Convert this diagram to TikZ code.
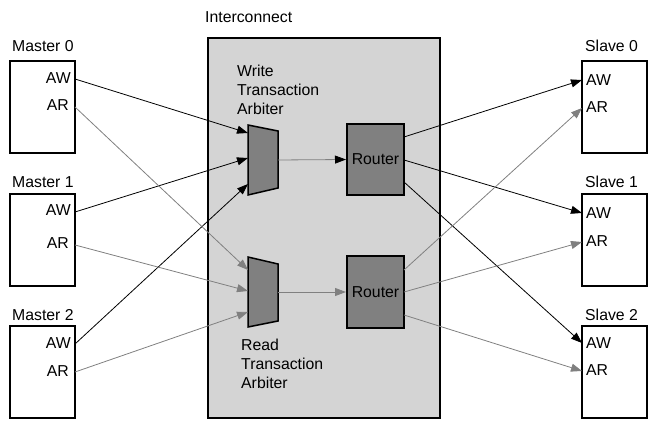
\documentclass[tikz,border=0pt]{standalone}
\usepackage{fontspec}
\setmainfont{Liberation Sans}
\usetikzlibrary{arrows.meta}
\definecolor{icfill}{HTML}{D4D4D4}
\definecolor{blockfill}{HTML}{808080}
\definecolor{rdline}{HTML}{808080}
\begin{document}
\begin{tikzpicture}[x=1pt,y=-1pt,
  lbl/.style={font=\fontsize{15.8}{19}\selectfont, inner sep=0pt},
  unitbox/.style={draw=black, line width=2pt, fill=white, minimum width=65pt, minimum height=92pt, inner sep=0pt},
  router/.style={draw=black, line width=2pt, fill=blockfill, minimum width=57pt, minimum height=71pt, inner sep=0pt, font=\fontsize{15.8}{19}\selectfont},
  arb/.style={draw=black, line width=1.5pt, fill=blockfill},
  wrarrow/.style={draw=black, line width=0.8pt, -{Triangle[length=11pt,width=8pt]}},
  rdarrow/.style={draw=rdline, line width=0.8pt, -{Triangle[length=11pt,width=8pt]}, color=rdline},
  wrline/.style={draw=black, line width=0.8pt},
  rdline/.style={draw=rdline, line width=0.8pt}
]
\useasboundingbox (0,0) rectangle (661,430);
% Interconnect
\node[lbl, anchor=west] (iclbl) at (205,17) {Interconnect};
\node[draw=black, line width=2pt, fill=icfill, minimum width=232pt, minimum height=380pt, inner sep=0pt] (ic) at (323.5,228) {};

% Masters
\foreach \i/\y in {0/46, 1/182, 2/315}{
  \node[lbl, anchor=west] (mlbl\i) at (12,\y) {Master \i};
}
\node[unitbox] (m0) at (42.5,107.5) {};
\node[unitbox] (m1) at (42.5,240) {};
\node[unitbox] (m2) at (42.5,372) {};
\node[lbl, anchor=east] (m0awt) at (71,78) {AW};
\node[lbl, anchor=east] (m0art) at (69,105) {AR};
\node[lbl, anchor=east] (m1awt) at (71,210) {AW};
\node[lbl, anchor=east] (m1art) at (69,243) {AR};
\node[lbl, anchor=east] (m2awt) at (71,343) {AW};
\node[lbl, anchor=east] (m2art) at (69,371) {AR};
\coordinate (m0aw) at (75,79);
\coordinate (m0ar) at (75,107);
\coordinate (m1aw) at (75,212);
\coordinate (m1ar) at (75,245);
\coordinate (m2aw) at (75,344);
\coordinate (m2ar) at (75,372);

% Slaves
\foreach \i/\y in {0/46, 1/182, 2/315}{
  \node[lbl, anchor=west] (slbl\i) at (585,\y) {Slave \i};
}
\node[unitbox] (s0) at (614,107.5) {};
\node[unitbox] (s1) at (614,240) {};
\node[unitbox] (s2) at (614,372) {};
\node[lbl, anchor=west] (s0awt) at (586,80) {AW};
\node[lbl, anchor=west] (s0art) at (586,107) {AR};
\node[lbl, anchor=west] (s1awt) at (586,213) {AW};
\node[lbl, anchor=west] (s1art) at (586,241) {AR};
\node[lbl, anchor=west] (s2awt) at (586,343) {AW};
\node[lbl, anchor=west] (s2art) at (586,370) {AR};
\coordinate (s0aw) at (582,80);
\coordinate (s0ar) at (582,108);
\coordinate (s1aw) at (582,213);
\coordinate (s1ar) at (582,242);
\coordinate (s2aw) at (582,343);
\coordinate (s2ar) at (582,371);

% Arbiters
\draw[arb] (248,125) -- (278,131) -- (278,188) -- (248,195) -- cycle;
\draw[arb] (248,257) -- (278,264) -- (278,321) -- (248,327) -- cycle;
\coordinate (wa0) at (248,133);
\coordinate (wa1) at (248,158);
\coordinate (wa2) at (248,184);
\coordinate (wao) at (278,160);
\coordinate (ra0) at (248,270);
\coordinate (ra1) at (248,291);
\coordinate (ra2) at (248,312);
\coordinate (rao) at (278,292);
\node[lbl, anchor=west, align=left] (wlbl) at (237,90) {Write\\Transaction\\Arbiter};
\node[lbl, anchor=west, align=left] (rlbl) at (241,364) {Read\\Transaction\\Arbiter};

% Routers
\node[router] (wr) at (375.5,159.5) {Router};
\node[router] (rr) at (375.5,292) {Router};
\coordinate (wr0) at (404,137);
\coordinate (wr1) at (404,160);
\coordinate (wr2) at (404,182);
\coordinate (rr0) at (404,270);
\coordinate (rr1) at (404,292);
\coordinate (rr2) at (404,315);

% Write connections
\draw[wrarrow] (m0aw) -- (wa0);
\draw[wrarrow] (m1aw) -- (wa1);
\draw[wrarrow] (m2aw) -- (wa2);
\draw[line width=0.8pt, draw=rdline, -{Triangle[length=11pt,width=8pt,color=black]}] (wao) -- (wr.west);
\draw[wrarrow] (wr0) -- (s0aw);
\draw[wrarrow] (wr1) -- (s1aw);
\draw[wrarrow] (wr2) -- (s2aw);

% Read connections
\draw[rdarrow] (m0ar) -- (ra0);
\draw[rdarrow] (m1ar) -- (ra1);
\draw[rdarrow] (m2ar) -- (ra2);
\draw[rdarrow] (rao) -- (rr.west);
\draw[rdarrow] (rr0) -- (s0ar);
\draw[rdarrow] (rr1) -- (s1ar);
\draw[rdarrow] (rr2) -- (s2ar);
\end{tikzpicture}
\end{document}
